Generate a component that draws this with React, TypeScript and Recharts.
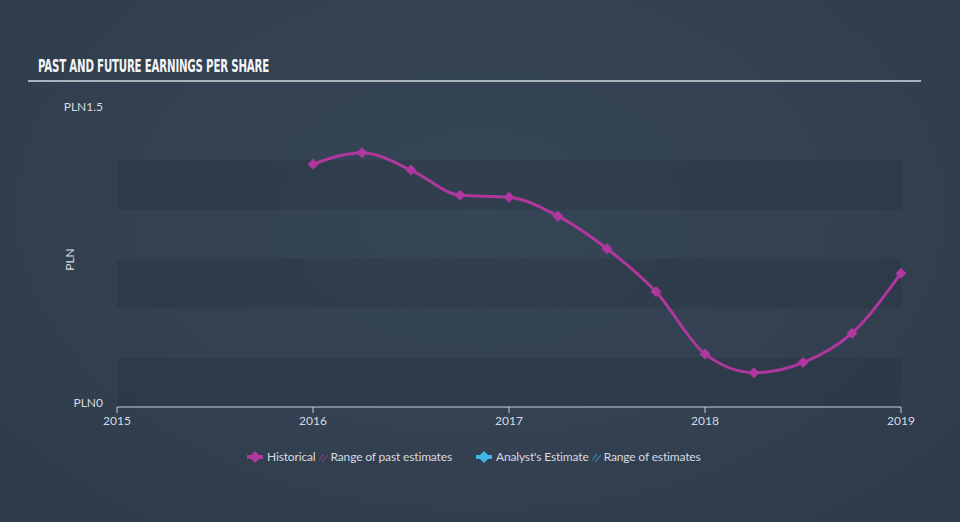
import React from "react";
import { LineChart, Line, XAxis, YAxis, ReferenceArea } from "recharts";

const periods = [2016, 2016.25, 2016.5, 2016.75, 2017, 2017.25, 2017.5, 2017.75, 2018, 2018.25, 2018.5, 2018.75, 2019];
const eps = [1.23, 1.289, 1.201, 1.073, 1.063, 0.967, 0.802, 0.584, 0.269, 0.174, 0.225, 0.374, 0.678];
const xTicks = [2015, 2016, 2017, 2018, 2019];
const yTicks = [0, 1.5];
const bands: [number, number][] = [[0, 0.25], [0.5, 0.75], [1.0, 1.25]];

const data = periods.map((p, i) => ({ t: p, eps: eps[i] }));

const MAGENTA = "#b0379e";
const CYAN = "#3fb8e6";
const TEXT = "#d6dbe1";
const FONT = "Lato, 'Open Sans', sans-serif";

const Diamond = (props: any) => {
  const { cx, cy } = props;
  if (cx == null || cy == null) return null;
  const r = 5.5;
  return (
    <polygon
      points={`${cx},${cy - r} ${cx + r},${cy} ${cx},${cy + r} ${cx - r},${cy}`}
      fill={MAGENTA}
    />
  );
};

const YTick = (props: any) => {
  const { x, y, payload } = props;
  return (
    <text x={x} y={y - 3} textAnchor="end" dominantBaseline="middle" fill={TEXT} fontSize={12} fontFamily={FONT}>
      {"PLN" + payload.value}
    </text>
  );
};

const LegendIcon = ({ color }: { color: string }) => (
  <svg width={16} height={12} style={{ marginRight: 4 }}>
    <rect x={0} y={4} width={16} height={4} fill={color} />
    <polygon points="8,0 14,6 8,12 2,6" fill={color} />
  </svg>
);

const Hatch = ({ color }: { color: string }) => (
  <svg width={9} height={10} style={{ margin: "0 3px 0 3px" }}>
    <line x1={0} y1={8} x2={5} y2={2} stroke={color} strokeWidth={1.3} />
    <line x1={3} y1={10} x2={9} y2={3} stroke={color} strokeWidth={1.3} />
  </svg>
);

const LegendContent = () => (
  <div
    style={{
      position: "absolute",
      left: 247,
      top: 449,
      display: "flex",
      alignItems: "center",
      fontFamily: FONT,
      fontSize: 12,
      letterSpacing: -0.15,
      color: TEXT,
      whiteSpace: "nowrap",
    }}
  >
    <LegendIcon color={MAGENTA} />
    <span>Historical</span>
    <Hatch color={"#7a3f78"} />
    <span>Range of past estimates</span>
    <span style={{ width: 24 }} />
    <LegendIcon color={CYAN} />
    <span>Analyst's Estimate</span>
    <Hatch color={"#3a7fa0"} />
    <span>Range of estimates</span>
  </div>
);

export default function App() {
  return (
    <div
      style={{
        position: "absolute",
        left: 0,
        top: 0,
        width: 960,
        height: 522,
        background: "radial-gradient(ellipse at 50% 40%, #364657 0%, #334152 50%, #2e3a48 100%)",
        overflow: "hidden",
      }}
    >
      <div
        style={{
          position: "absolute",
          left: 38,
          top: 56,
          fontFamily: "'DejaVu Sans Condensed', 'DejaVu Sans', sans-serif",
          fontWeight: "bold",
          fontSize: 17,
          color: "#f2f4f6",
          letterSpacing: -0.3,
          transform: "scaleX(0.67)",
          transformOrigin: "left center",
          whiteSpace: "nowrap",
        }}
      >
        PAST AND FUTURE EARNINGS PER SHARE
      </div>
      <div style={{ position: "absolute", left: 28, top: 80, width: 893, height: 2, background: "#aab2bc" }} />
      <div
        style={{
          position: "absolute",
          left: 58,
          top: 252,
          fontFamily: FONT,
          fontSize: 12,
          color: TEXT,
          transform: "rotate(-90deg)",
          transformOrigin: "center",
        }}
      >
        PLN
      </div>
      <div style={{ position: "absolute", left: 0, top: 0 }}>
        <LineChart
          width={960}
          height={522}
          data={data}
          margin={{ top: 111, right: 59, bottom: 85, left: 57 }}
        >
          {bands.map((b, i) => (
            <ReferenceArea
              key={i}
              x1={2015}
              x2={2019}
              y1={b[0]}
              y2={b[1]}
              fill="#28323f"
              fillOpacity={0.35}
              stroke="none"
              ifOverflow="visible"
            />
          ))}
          <XAxis
            dataKey="t"
            type="number"
            domain={[2015, 2019]}
            ticks={xTicks}
            height={30}
            axisLine={{ stroke: "#c9cfd6", strokeWidth: 1 }}
            tickLine={{ stroke: "#c9cfd6" }}
            tickSize={6}
            tickMargin={3}
            tick={{ fill: TEXT, fontSize: 12, fontFamily: FONT }}
            interval={0}
          />
          <YAxis
            type="number"
            domain={[0, 1.5]}
            ticks={yTicks}
            width={60}
            axisLine={false}
            tickLine={false}
            tickSize={0}
            tickMargin={14}
            tick={<YTick />}
          />
          <Line
            type="monotone"
            dataKey="eps"
            stroke={MAGENTA}
            strokeWidth={3}
            dot={<Diamond />}
            activeDot={false}
            isAnimationActive={false}
          />
        </LineChart>
      </div>
      <LegendContent />
    </div>
  );
}
